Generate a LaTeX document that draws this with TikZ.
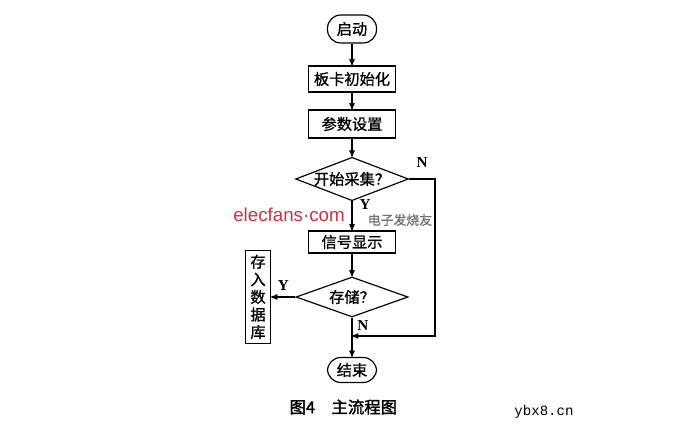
\documentclass[tikz,border=0pt]{standalone}
\usepackage{fontspec}
\setmainfont{Liberation Serif}
\newfontfamily\cjk[FakeBold=1]{Noto Sans CJK SC}
\newfontfamily\cjkcap[FakeBold=2]{Noto Sans CJK SC}
\newfontfamily\monofnt{Liberation Mono}
\newfontfamily\markfnt{Liberation Sans}
\usepackage{tikz}
\usetikzlibrary{arrows.meta, positioning, arrows, shapes.geometric}

\begin{document}
\begin{tikzpicture}[->, >=stealth', on grid, auto, line width=1pt,
        proc/.style={rectangle, draw, minimum width=2.61cm, font=\cjk\fontsize{13}{15}\selectfont},
        term/.style={rectangle, draw, rounded corners=0.4cm, minimum width=1.47cm, font=\cjk\fontsize{13}{15}\selectfont},
        test/.style={diamond, draw, aspect=2.6, inner sep=0pt, font=\cjk\fontsize{13}{15}\selectfont},
        yn/.style={font=\fontsize{13}{15}\selectfont\bfseries, inner sep=1pt}]

                        \useasboundingbox (0,0) rectangle (20.76,-13.29);

                        % Nodes for the main flow
                        \node (start) [term, minimum height=0.84cm] at (10.56,-0.87) {启动};
                        \node (init) [proc, minimum height=0.78cm, below=1.5cm of start] {板卡初始化};
                        \node (param) [proc, minimum height=0.84cm, below=1.35cm of init] {参数设置};
                        \node (acq) [test, minimum width=3.3cm, minimum height=1.26cm, below=1.65cm of param] {开始采集？};
                        \node (show) [proc, minimum height=0.66cm, below=1.89cm of acq] {信号显示};
                        \node (store) [test, minimum width=3.36cm, minimum height=1.2cm, below=1.65cm of show] {存储？};
                        \node (db) [proc, minimum width=0.75cm, minimum height=2.79cm, inner sep=2pt, align=center, left=2.82cm of store] {存\\入\\数\\据\\库};
                        \node (end) [term, minimum height=0.75cm, below=2.19cm of store] {结束};
                        \coordinate [right=2.49cm of acq] (nturn);
                        \coordinate [below=1.17cm of store] (join);

                        % Edges for the main flow
                        \draw (start) to (init);
                        \draw (init) to (param);
                        \draw (param) to (acq);
                        \draw (acq) to node[yn, right=5pt, pos=0.12] {Y} (show);
                        \draw (show) to (store);
                        \draw (store) to node[yn, above=4pt] {Y} (db);
                        \draw (store) to node[yn, right=3pt, pos=0.2] {N} (end);
                        \draw (acq.east) -- node[yn, above=8pt] {N} (nturn) |- (join);

                        % Caption and marks
                        \node (caption) at (10.3,-12.21) {\cjkcap\fontsize{14}{16}\selectfont 图4\quad 主流程图};
                        \node (mark) [text={rgb,255:red,215;green,45;blue,60}] at (8.67,-6.45) {\markfnt\fontsize{16}{18}\selectfont elecfans·com};
                        \node (markcn) [text=black!55] at (12.0,-6.6) {\cjk\fontsize{11}{13}\selectfont 电子发烧友};
                        \node (site) at (16.32,-12.36) {\monofnt\fontsize{12}{14}\selectfont ybx8.cn};
                \end{tikzpicture}
\end{document}
